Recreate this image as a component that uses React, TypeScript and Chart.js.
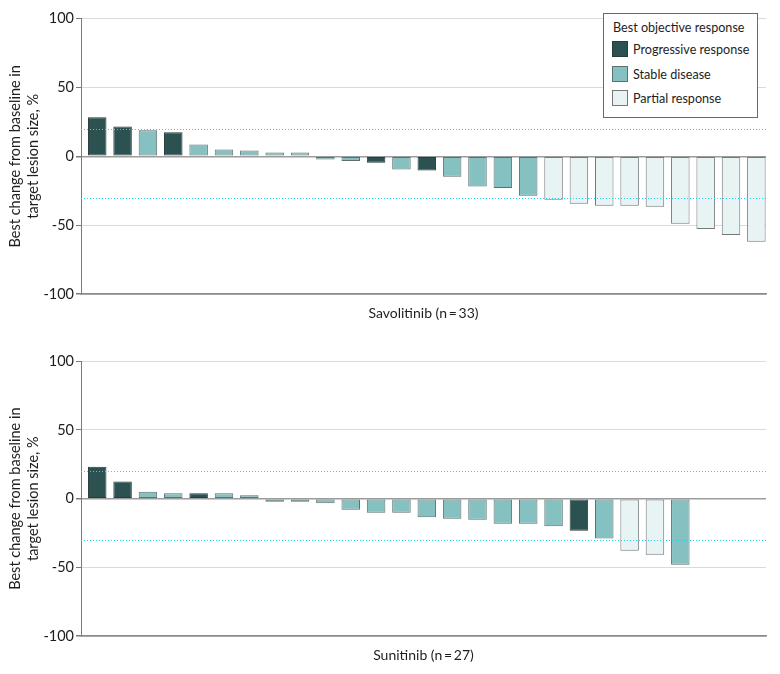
import React, { useEffect, useRef } from 'react';
import { Chart, registerables } from 'chart.js';

Chart.register(...registerables);

// ---------- data ----------
const responseCodes = ['PD', 'SD', 'PR'];
const responseLabels = ['Progressive response', 'Stable disease', 'Partial response'];
const responseColors = ['#2b5251', '#85c1c0', '#e8f3f4'];
const responseBorders = ['#2a3a3a', '#5f6f6f', '#747878'];

const yTickValues = [-100, -50, 0, 50, 100];
const thresholdLines = [20, -30];

const savolitinibTitle = 'Savolitinib (n\u2009=\u200933)';
const savolitinibValues = [
  28.4, 21.6, 18.9, 17.5, 8.5, 4.9, 4.1, 2.7, 2.7, -2.4, -3.4, -4.8, -9.7, -10.4,
  -14.8, -22, -23, -28.6, -31.5, -34.4, -35.9, -35.9, -36.6, -49, -52.8, -57.2, -62,
];
const savolitinibResponses = [
  'PD', 'PD', 'SD', 'PD', 'SD', 'SD', 'SD', 'SD', 'SD', 'SD', 'SD', 'PD', 'SD', 'PD',
  'SD', 'SD', 'SD', 'SD', 'PR', 'PR', 'PR', 'PR', 'PR', 'PR', 'PR', 'PR', 'PR',
];

const sunitinibTitle = 'Sunitinib (n\u2009=\u200927)';
const sunitinibValues = [
  23.3, 12.4, 5.1, 3.9, 3.9, 3.9, 2.4, -2.2, -2.2, -3.4, -8, -10.2, -10.2, -13.6,
  -14.6, -15.3, -18.2, -18.2, -20.1, -23.3, -29.1, -37.9, -40.8, -48.1,
];
const sunitinibResponses = [
  'PD', 'PD', 'SD', 'SD', 'PD', 'SD', 'SD', 'SD', 'SD', 'SD', 'SD', 'SD', 'SD', 'SD',
  'SD', 'SD', 'SD', 'SD', 'SD', 'PD', 'SD', 'PR', 'PR', 'SD',
];

const yAxisTitle = ['Best change from baseline in', 'target lesion size, %'];

// ---------- styling ----------
const FONT_FAMILY = 'Lato, "DejaVu Sans", sans-serif';
const TEXT_COLOR = '#1e1e1e';

const thresholdPlugin = {
  id: 'thresholdLines',
  afterDatasetsDraw(chart: any) {
    const { ctx, chartArea, scales } = chart;
    ctx.save();
    ctx.strokeStyle = '#1fd8ec';
    ctx.lineWidth = 1;
    ctx.setLineDash([1, 2]);
    thresholdLines.forEach((v) => {
      const y = Math.round(scales.y.getPixelForValue(v)) + 0.5;
      ctx.beginPath();
      ctx.moveTo(chartArea.left, y);
      ctx.lineTo(chartArea.right, y);
      ctx.stroke();
    });
    ctx.restore();
  },
};

function makeConfig(values: number[], responses: string[], title: string, padTop: number, xHeight: number, titlePadBottom: number) {
  const idx = responses.map((r) => responseCodes.indexOf(r));
  return {
    type: 'bar',
    data: {
      datasets: [
        {
          data: values.map((v, i) => ({ x: i + 1, y: v })),
          backgroundColor: idx.map((k) => responseColors[k]),
          borderColor: idx.map((k) => responseBorders[k]),
          borderWidth: 1,
          borderSkipped: false,
          barPercentage: 0.73,
          categoryPercentage: 1,
        },
      ],
    },
    options: {
      responsive: false,
      animation: false,
      events: [],
      layout: { padding: { left: 0, right: 14, top: padTop, bottom: 0 } },
      plugins: { legend: { display: false }, tooltip: { enabled: false }, title: { display: false } },
      scales: {
        x: {
          type: 'linear',
          offset: false,
          min: 0.36,
          max: 27.38,
          bounds: 'ticks',
          ticks: { display: false },
          grid: { display: false, drawTicks: false },
          border: { display: true, color: '#8a8a8a', width: 1.5 },
          title: {
            display: true,
            text: title,
            color: TEXT_COLOR,
            font: { family: FONT_FAMILY, size: 14 },
            padding: { top: 0, bottom: titlePadBottom },
          },
          afterFit(scale: any) {
            scale.height = xHeight;
          },
        },
        y: {
          min: -100,
          max: 100,
          afterBuildTicks(scale: any) {
            scale.ticks = yTickValues.map((v) => ({ value: v }));
          },
          ticks: {
            color: TEXT_COLOR,
            font: { family: FONT_FAMILY, size: 14.5 },
            padding: 2,
          },
          grid: {
            color: (c: any) => (c.tick && c.tick.value === 0 ? '#9c9c9c' : c.tick && c.tick.value === -100 ? '#8a8a8a' : '#dadada'),
            lineWidth: (c: any) => (c.tick && (c.tick.value === 0 || c.tick.value === -100) ? 1.5 : 1),
            tickColor: '#7a7a7a',
            tickLength: 5,
            drawTicks: true,
          },
          border: { display: true, color: '#7a7a7a', width: 1 },
          title: {
            display: true,
            text: yAxisTitle,
            color: TEXT_COLOR,
            font: { family: FONT_FAMILY, size: 14.5, lineHeight: 1.2 },
            padding: { top: 7, bottom: 0 },
          },
          afterFit(scale: any) {
            scale.width = 81;
          },
        },
      },
    },
    plugins: [thresholdPlugin],
  } as any;
}

function BarPanel(props: { values: number[]; responses: string[]; title: string; padTop: number; xHeight: number; titlePadBottom: number; top: number; children?: any }) {
  const ref = useRef<HTMLCanvasElement | null>(null);
  useEffect(() => {
    if (!ref.current) return;
    const chart = new Chart(ref.current, makeConfig(props.values, props.responses, props.title, props.padTop, props.xHeight, props.titlePadBottom));
    return () => chart.destroy();
  }, []);
  return (
    <div style={{ position: 'absolute', left: 0, top: props.top, width: 780, height: 337 }}>
      <canvas ref={ref} width={780} height={337} style={{ display: 'block', width: 780, height: 337 }} />
      {props.children}
    </div>
  );
}

function Legend() {
  const rows = [28.4, 52.7, 77.4];
  return (
    <div
      style={{
        position: 'absolute',
        left: 603,
        top: 13,
        width: 155,
        height: 105,
        boxSizing: 'border-box',
        border: '1px solid #6a6a6a',
        background: '#ffffff',
        fontFamily: FONT_FAMILY,
        fontSize: 12.6,
        color: TEXT_COLOR,
        lineHeight: '16px',
      }}
    >
      <div style={{ position: 'absolute', left: 9, top: 6, whiteSpace: 'nowrap' }}>Best objective response</div>
      {responseLabels.map((lab, i) => (
        <React.Fragment key={lab}>
          <div
            style={{
              position: 'absolute',
              left: 8,
              top: rows[i] - 1,
              width: 16,
              height: 16,
              boxSizing: 'border-box',
              background: responseColors[i],
              border: '1px solid ' + responseBorders[i],
            }}
          />
          <div style={{ position: 'absolute', left: 29, top: rows[i], whiteSpace: 'nowrap' }}>{lab}</div>
        </React.Fragment>
      ))}
    </div>
  );
}

export default function App() {
  return (
    <div style={{ position: 'absolute', left: 0, top: 0, width: 780, height: 674, background: '#fff' }}>
      <BarPanel values={savolitinibValues} responses={savolitinibResponses} title={savolitinibTitle} padTop={18.5} xHeight={43} titlePadBottom={15.6} top={0}>
        <Legend />
      </BarPanel>
      <BarPanel values={sunitinibValues} responses={sunitinibResponses} title={sunitinibTitle} padTop={24.3} xHeight={38} titlePadBottom={10.3} top={337} />
    </div>
  );
}
